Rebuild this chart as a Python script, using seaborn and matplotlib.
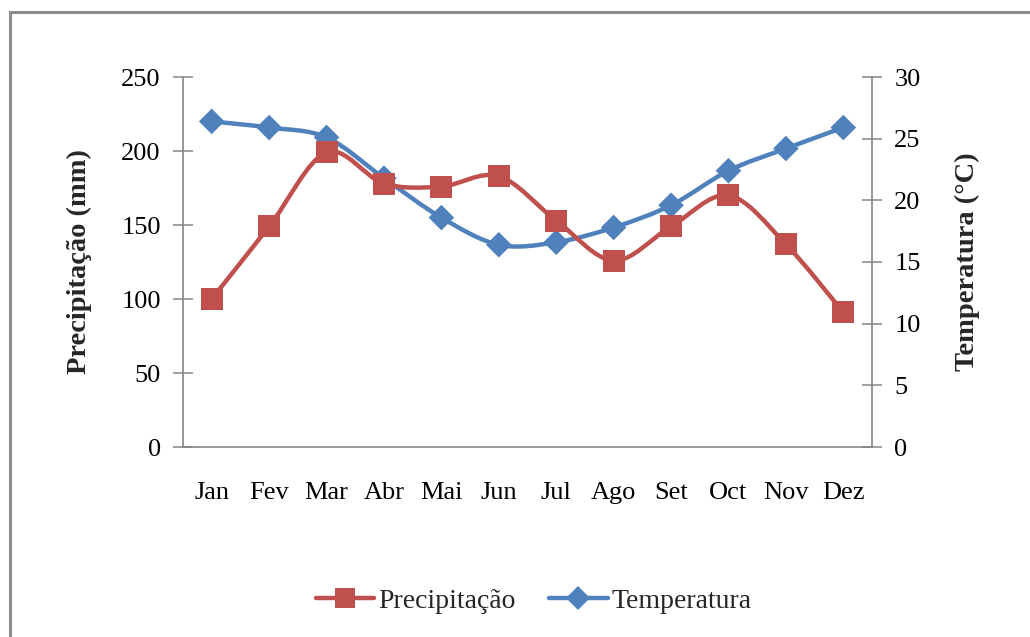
import numpy as np
import pandas as pd
import matplotlib
matplotlib.use("Agg")
import matplotlib.pyplot as plt
import seaborn as sns
from matplotlib.path import Path
from matplotlib.patches import PathPatch, Rectangle
from matplotlib.lines import Line2D
from matplotlib.ticker import FixedLocator

# --- Data ---
meses = ['Jan', 'Fev', 'Mar', 'Abr', 'Mai', 'Jun', 'Jul', 'Ago', 'Set', 'Oct', 'Nov', 'Dez']
precipitacao = [100, 149, 199, 178, 176, 183, 153, 126, 149, 170, 137, 91]
temperatura = [26.4, 25.9, 25.1, 21.8, 18.6, 16.4, 16.6, 17.8, 19.6, 22.4, 24.2, 25.9]

RED = '#C0504D'
BLUE = '#4F81BD'
GRAY = '#868686'

sns.set_theme(style="white")
plt.rcParams['font.family'] = ['Liberation Serif', 'DejaVu Serif']


def smooth_path(xs, ys):
    # Excel-like smoothed line (Catmull-Rom as cubic Bezier)
    pts = np.column_stack([xs, ys]).astype(float)
    n = len(pts)
    verts = [pts[0]]
    codes = [Path.MOVETO]
    for i in range(n - 1):
        p0 = pts[i - 1] if i > 0 else pts[i]
        p1, p2 = pts[i], pts[i + 1]
        p3 = pts[i + 2] if i + 2 < n else pts[i + 1]
        verts += [p1 + (p2 - p0) / 6, p2 - (p3 - p1) / 6, p2]
        codes += [Path.CURVE4] * 3
    return Path(verts, codes)


df = pd.DataFrame({'mes': meses, 'x': np.arange(len(meses)),
                   'prec': precipitacao, 'temp': temperatura})

fig = plt.figure(figsize=(10.3, 6.37), dpi=100)
ax = fig.add_axes([183 / 1030, 1 - 447 / 637, 689 / 1030, 370 / 637])
ax2 = ax.twinx()

# precipitation (left axis)
ax.add_patch(PathPatch(smooth_path(df['x'], df['prec']), fill=False,
                       edgecolor=RED, lw=3.2, capstyle='round', zorder=2))
sns.scatterplot(data=df, x='x', y='prec', ax=ax, marker='s', s=250,
                color=RED, edgecolor='none', zorder=3, legend=False)

# temperature (right axis)
ax2.add_patch(PathPatch(smooth_path(df['x'], df['temp']), fill=False,
                        edgecolor=BLUE, lw=3.2, capstyle='round', zorder=2))
sns.scatterplot(data=df, x='x', y='temp', ax=ax2, marker='D', s=170,
                color=BLUE, edgecolor='none', zorder=3, legend=False)

ax.set_xlim(-0.5, 11.5)
ax.set_ylim(0, 250)
ax2.set_ylim(0, 30)
ax.set_yticks(np.arange(0, 251, 50))
ax2.set_yticks(np.arange(0, 31, 5))

ax.set_xticks(df['x'])
ax.set_xticklabels(meses)
bounds = [b for b in np.arange(-0.5, 12, 1.0) if b != 8.5]
ax.xaxis.set_minor_locator(FixedLocator(bounds))

for a in (ax, ax2):
    for s in a.spines.values():
        s.set_visible(False)
ax.spines['left'].set_visible(True)
ax.spines['bottom'].set_visible(True)
ax2.spines['right'].set_visible(True)
for s in (ax.spines['left'], ax.spines['bottom'], ax2.spines['right']):
    s.set_color(GRAY)
    s.set_linewidth(1.2)

ax.tick_params(axis='x', which='major', length=0, pad=25, labelsize=19, colors='black')
ax.tick_params(axis='x', which='minor', direction='inout', length=13, width=1.1, color=GRAY)
ax.tick_params(axis='y', direction='inout', length=14, width=1.1, color=GRAY,
               pad=9, labelsize=19, labelcolor='black', left=True)
ax2.tick_params(axis='y', direction='inout', length=14, width=1.1, color=GRAY,
                pad=9, labelsize=19, labelcolor='black', right=True)

ax.set_xlabel('')
ax.set_ylabel('Precipitação (mm)', fontsize=20.5, fontweight='bold', labelpad=21)
ax2.set_ylabel('Temperatura (°C)', fontsize=20.5, fontweight='bold', labelpad=25)
ax.grid(False)
ax2.grid(False)
ax.set_zorder(ax2.get_zorder() + 1)
ax.patch.set_visible(False)

handles = [
    Line2D([], [], color=RED, lw=3.2, marker='s', markersize=15, markeredgewidth=0),
    Line2D([], [], color=BLUE, lw=3.2, marker='D', markersize=12, markeredgewidth=0),
]
fig.legend(handles, ['Precipitação', 'Temperatura'], loc='center',
           bbox_to_anchor=(534 / 1030, 36 / 637), ncol=2, frameon=False,
           fontsize=20, handlelength=2.1, handletextpad=0.15, columnspacing=1.2)

# outer chart border (left and top visible)
fig.add_artist(Rectangle((10 / 1030, -0.1), 1.2, 1.1 - 12 / 637, fill=False,
                         edgecolor='#8C8C8C', lw=2.2, transform=fig.transFigure))

fig.savefig('out.png', dpi=100)
